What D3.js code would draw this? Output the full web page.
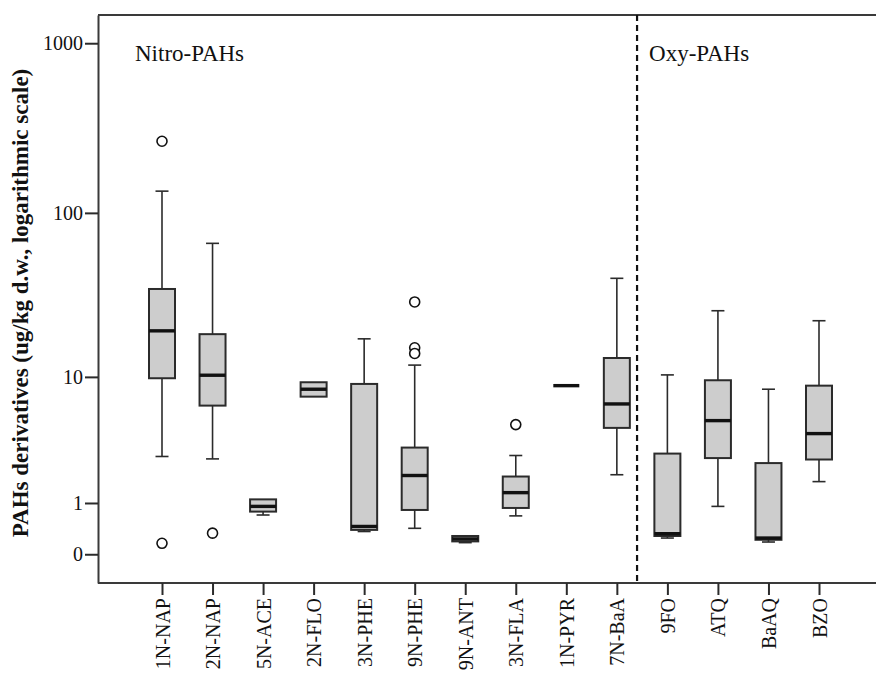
<!DOCTYPE html>
<meta charset="utf-8">
<script src="https://d3js.org/d3.v7.min.js"></script>
<style>
  body { margin: 0; background: #fff; }
  text { font-family: "Liberation Serif", "Times New Roman", serif; fill: #111; }
</style>
<div id="boxplot"></div>

<script>
    // categories and box statistics (ug/kg d.w.)
    const categories = ["1N-NAP", "2N-NAP", "5N-ACE", "2N-FLO", "3N-PHE", "9N-PHE", "9N-ANT",
                        "3N-FLA", "1N-PYR", "7N-BaA", "9FO", "ATQ", "BaAQ", "BZO"];
    const whiskerLow  = [2.75, 2.63, 0.70, 7.42, 0.36, 0.42, 0.17, 0.68, 8.77, 1.93, 0.245, 0.91, 0.18, 1.67];
    const q1          = [9.8,  6.46, 0.78, 7.42, 0.39, 0.82, 0.19, 0.87, 8.77, 4.52, 0.28, 2.67, 0.216, 2.60];
    const median      = [19.5, 10.25, 0.91, 8.31, 0.456, 1.90, 0.23, 1.30, 8.77, 6.63, 0.32, 5.09, 0.245, 4.11];
    const q3          = [35.1, 18.6, 1.10, 9.23, 9.0, 3.23, 0.28, 1.86, 8.77, 13.2, 2.90, 9.51, 2.43, 8.77];
    const whiskerHigh = [134.5, 65.9, 1.10, 9.23, 17.4, 11.9, 0.28, 2.80, 8.77, 40.7, 10.3, 25.9, 8.31, 22.5];
    const outliers    = [[265, 0.16], [0.33], [], [], [], [29.3, 15.3, 14.1], [], [4.77], [], [], [], [], [], []];

    // axis ticks and group labels
    const yTicks = [0, 1, 10, 100, 1000];
    const groupLabels = ["Nitro-PAHs", "Oxy-PAHs"];

    const width = 876, height = 674;
    const margin = {top: 15, right: 0, bottom: 91, left: 98};

    const svg = d3.select("#boxplot")
      .append("svg")
        .attr("width", width)
        .attr("height", height);

    // x positions of the categories
    const x = d3.scalePoint()
        .domain(categories)
        .range([margin.left + 64, width - margin.right - 57]);
    const step = x.step();

    // values are drawn on a log10(v + 1) scale so that 0 can be shown
    const y = d3.scaleLog()
        .domain([0.678, 1466])
        .range([height - margin.bottom, margin.top]);
    const yv = v => y(v + 1);

    const data = categories.map((c, i) => ({
        name: c, lo: whiskerLow[i], q1: q1[i], med: median[i], q3: q3[i], hi: whiskerHigh[i], out: outliers[i]
    }));

    const stroke = "#2b2b2b";
    const boxW = 26, capW = 13;

    // frame: top line and axis lines
    svg.append("line")
        .attr("x1", margin.left).attr("x2", width)
        .attr("y1", margin.top).attr("y2", margin.top)
        .attr("stroke", "#3a3a3a").attr("stroke-width", 2);
    svg.append("line")
        .attr("x1", margin.left).attr("x2", width)
        .attr("y1", height - margin.bottom).attr("y2", height - margin.bottom)
        .attr("stroke", "#3a3a3a").attr("stroke-width", 2);

    // y axis
    const yAxis = svg.append("g")
        .attr("transform", `translate(${margin.left},0)`)
        .call(d3.axisLeft(y)
            .tickValues(yTicks.map(v => v + 1))
            .tickFormat(d => Math.round(d - 1))
            .tickSize(13)
            .tickPadding(2)
            .tickSizeOuter(0));
    yAxis.select(".domain").attr("stroke", "#3a3a3a").attr("stroke-width", 2);
    yAxis.selectAll(".tick line").attr("stroke", "#2b2b2b").attr("stroke-width", 2);
    yAxis.selectAll(".tick text")
        .style("font-size", "20px").attr("fill", "#111");

    // x axis
    const xAxis = svg.append("g")
        .attr("transform", `translate(0,${height - margin.bottom})`)
        .call(d3.axisBottom(x).tickSize(12).tickSizeOuter(0));
    xAxis.select(".domain").remove();
    xAxis.selectAll(".tick line").attr("stroke", "#2b2b2b").attr("stroke-width", 2);
    xAxis.selectAll(".tick text")
        .style("font-size", "20px")
        .attr("text-anchor", "end")
        .attr("dy", "0.35em")
        .attr("transform", "translate(0,15) rotate(-90)")
        .attr("x", 0).attr("y", 0);

    // y axis title
    svg.append("text")
        .attr("transform", "translate(28,303) rotate(-90)")
        .attr("text-anchor", "middle")
        .style("font-size", "23px")
        .style("font-weight", "bold")
        .text("PAHs derivatives (ug/kg d.w., logarithmic scale)");

    // divider between nitro and oxy groups
    svg.append("line")
        .attr("x1", x("7N-BaA") + step * 0.4).attr("x2", x("7N-BaA") + step * 0.4)
        .attr("y1", margin.top).attr("y2", height - margin.bottom)
        .attr("stroke", "#111").attr("stroke-width", 2.2)
        .attr("stroke-dasharray", "6,4");

    // group labels
    svg.append("text")
        .attr("x", margin.left + 37).attr("y", 61)
        .style("font-size", "23px")
        .text(groupLabels[0]);
    svg.append("text")
        .attr("x", x("7N-BaA") + step * 0.4 + 12).attr("y", 61)
        .style("font-size", "23px")
        .text(groupLabels[1]);

    const box = svg.selectAll("g.box")
        .data(data)
        .join("g")
          .attr("class", "box")
          .attr("transform", d => `translate(${x(d.name)},0)`);

    // whiskers
    box.filter(d => d.hi > d.q3).append("line")
        .attr("y1", d => yv(d.q3)).attr("y2", d => yv(d.hi))
        .attr("stroke", stroke).attr("stroke-width", 1.6);
    box.filter(d => d.lo < d.q1).append("line")
        .attr("y1", d => yv(d.q1)).attr("y2", d => yv(d.lo))
        .attr("stroke", stroke).attr("stroke-width", 1.6);
    box.filter(d => d.hi > d.q3).append("line")
        .attr("x1", -capW / 2).attr("x2", capW / 2)
        .attr("y1", d => yv(d.hi)).attr("y2", d => yv(d.hi))
        .attr("stroke", stroke).attr("stroke-width", 1.6);
    box.filter(d => d.lo < d.q1).append("line")
        .attr("x1", -capW / 2).attr("x2", capW / 2)
        .attr("y1", d => yv(d.lo)).attr("y2", d => yv(d.lo))
        .attr("stroke", stroke).attr("stroke-width", 1.6);

    // boxes
    box.append("rect")
        .attr("x", -boxW / 2)
        .attr("width", boxW)
        .attr("y", d => yv(d.q3))
        .attr("height", d => yv(d.q1) - yv(d.q3))
        .attr("fill", "#cdcdcd")
        .attr("stroke", stroke)
        .attr("stroke-width", 2);

    // medians
    box.append("line")
        .attr("x1", -boxW / 2).attr("x2", boxW / 2)
        .attr("y1", d => yv(d.med)).attr("y2", d => yv(d.med))
        .attr("stroke", "#111").attr("stroke-width", 3.4);

    // outliers
    box.selectAll("circle")
        .data(d => d.out)
        .join("circle")
          .attr("cy", v => yv(v))
          .attr("r", 5)
          .attr("fill", "#fff")
          .attr("stroke", "#111")
          .attr("stroke-width", 1.6);
</script>
